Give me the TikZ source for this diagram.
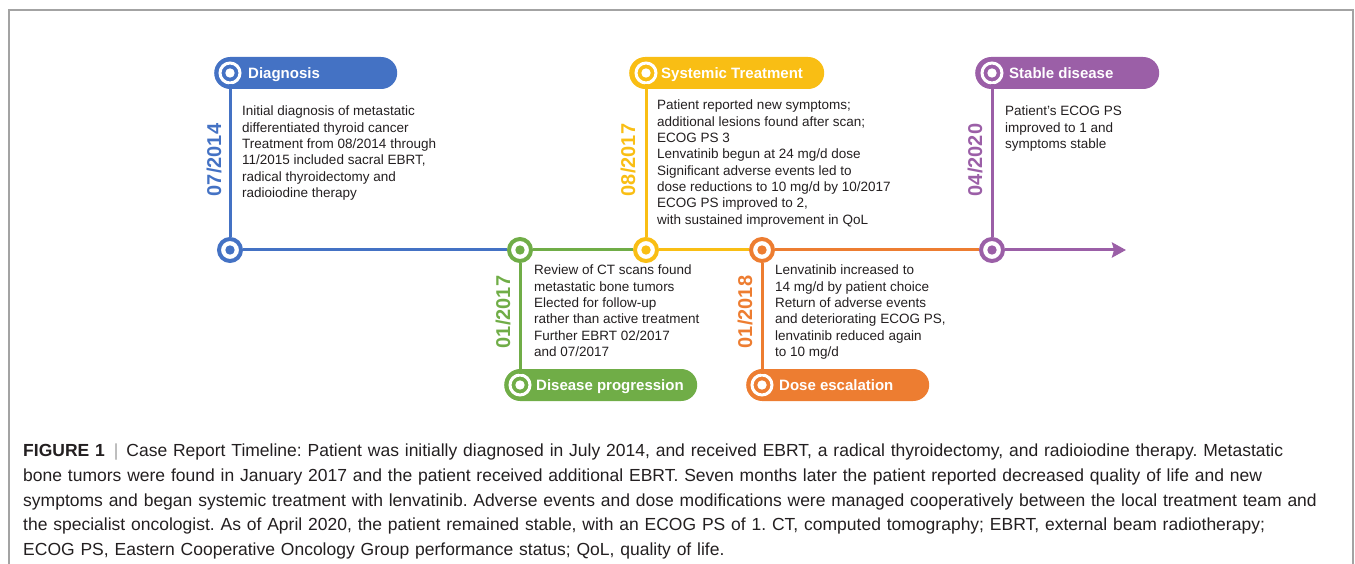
\documentclass[tikz,border=0pt]{standalone}
\usepackage{fontspec}
\setmainfont{Liberation Sans}
\usetikzlibrary{calc, arrows.meta, positioning}

\definecolor{tlblue}{HTML}{4472C4}
\definecolor{tlgreen}{HTML}{70AD47}
\definecolor{tlyellow}{HTML}{F9BE14}
\definecolor{tlorange}{HTML}{ED7D31}
\definecolor{tlpurple}{HTML}{9B5FA7}
\definecolor{txt}{HTML}{231F20}
\definecolor{framegray}{HTML}{A3A3A3}

\tikzset{
	ring/.style 2 args={circle, draw=#1, fill=#2, line width=4pt, minimum size=22pt, inner sep=0pt,
		path picture={\fill[#1] (path picture bounding box.center) circle (4.7pt);}},
	topring/.style={ring={white}{#1}, line width=3pt, minimum size=20pt},
	pill/.style={fill=#1, rounded corners=16pt, minimum height=32pt, inner sep=0pt, anchor=west},
	title/.style={text=white, font=\bfseries\fontsize{15}{18}\selectfont, anchor=base west, inner sep=0pt},
	date/.style={text=#1, font=\bfseries\fontsize{20}{24}\selectfont, rotate=90, inner sep=0pt},
	desc/.style={text=txt, font=\fontsize{13.5}{16.3}\selectfont, align=left, anchor=north west, inner sep=0pt},
	tl/.style={draw=#1, line width=3pt}
}

\begin{document}
\frenchspacing
\begin{tikzpicture}[x=1pt, y=-1pt]
	\useasboundingbox (0,0) rectangle (1355,564);
	\def\ytop{73}
	\def\ymid{250}
	\def\ybot{385}

	% --- frame ---
	\draw[framegray, line width=1.5pt] (9,564) -- (9,10) -- (1353,10) -- (1353,564);

	% --- labels ---
	\node[pill=tlblue, minimum width=183pt] (diagpill) at (214,\ytop) {};
	\node[pill=tlgreen, minimum width=193pt] (progpill) at (504,\ybot) {};
	\node[pill=tlyellow, minimum width=195pt] (systpill) at (629,\ytop) {};
	\node[pill=tlorange, minimum width=183pt] (escpill) at (746,\ybot) {};
	\node[pill=tlpurple, minimum width=184pt] (stabpill) at (975,\ytop) {};

	\node[title] (diagtitle) at (248,78.5) {Diagnosis};
	\node[title] (progtitle) at (536,390.5) {Disease progression};
	\node[title] (systtitle) at (661,78.5) {Systemic Treatment};
	\node[title] (esctitle) at (779,390.5) {Dose escalation};
	\node[title] (stabtitle) at (1009,78.5) {Stable disease};

	% --- markers ---
	\node[topring=tlblue] (diagtop) at (230,\ytop) {};
	\node[topring=tlgreen] (progbot) at (520,\ybot) {};
	\node[topring=tlyellow] (systtop) at (646,\ytop) {};
	\node[topring=tlorange] (escbot) at (762,\ybot) {};
	\node[topring=tlpurple] (stabtop) at (992,\ytop) {};

	\node[ring={tlblue}{white}] (diag) at (230,\ymid) {};
	\node[ring={tlgreen}{white}] (prog) at (520,\ymid) {};
	\node[ring={tlyellow}{white}] (syst) at (646,\ymid) {};
	\node[ring={tlorange}{white}] (esc) at (762,\ymid) {};
	\node[ring={tlpurple}{white}] (stab) at (992,\ymid) {};
	\coordinate (tlend) at (1126,\ymid);

	% --- timeline ---
	\draw[tl=tlblue] (diag) -- (prog);
	\draw[tl=tlgreen] (prog) -- (syst);
	\draw[tl=tlyellow] (syst) -- (esc);
	\draw[tl=tlorange] (esc) -- (stab);
	\draw[tl=tlpurple, -{Stealth[length=14pt, width=15pt, inset=2pt]}] (stab) -- (tlend);

	\draw[tl=tlblue] (diag) -- (diagtop);
	\draw[tl=tlgreen] (prog) -- (progbot);
	\draw[tl=tlyellow] (syst) -- (systtop);
	\draw[tl=tlorange] (esc) -- (escbot);
	\draw[tl=tlpurple] (stab) -- (stabtop);

	% --- dates ---
	\node[date=tlblue] (diagdate) at (214,160) {07/2014};
	\node[date=tlgreen] (progdate) at (503,312) {01/2017};
	\node[date=tlyellow] (systdate) at (628,160) {08/2017};
	\node[date=tlorange] (escdate) at (745,312) {01/2018};
	\node[date=tlpurple] (stabdate) at (975,160) {04/2020};

	% --- descriptions ---
	\node[desc] (diagtxt) at (242,106) {Initial diagnosis of metastatic\\differentiated thyroid cancer\\Treatment from 08/2014 through\\11/2015 included sacral EBRT,\\radical thyroidectomy and\\radioiodine therapy};
	\node[desc] (progtxt) at (534,265) {Review of CT scans found\\metastatic bone tumors\\Elected for follow-up\\rather than active treatment\\Further EBRT 02/2017\\and 07/2017};
	\node[desc] (systtxt) at (657,100) {Patient reported new symptoms;\\additional lesions found after scan;\\ECOG PS 3\\Lenvatinib begun at 24 mg/d dose\\Significant adverse events led to\\dose reductions to 10 mg/d by 10/2017\\ECOG PS improved to 2,\\with sustained improvement in QoL};
	\node[desc] (esctxt) at (775,265) {Lenvatinib increased to\\14 mg/d by patient choice\\Return of adverse events\\and deteriorating ECOG PS,\\lenvatinib reduced again\\to 10 mg/d};
	\node[desc] (stabtxt) at (1005,106) {Patient's ECOG PS\\improved to 1 and\\symptoms stable};

	% --- caption ---
	\node[text=txt, font=\fontsize{17.5}{24.6}\selectfont, align=left, text width=1320pt, anchor=north west, inner sep=0pt] (caption) at (23,444) {\textbf{FIGURE 1}\hspace{9pt}{\color{framegray}|}\hspace{8pt}Case Report Timeline: Patient was initially diagnosed in July 2014, and received EBRT, a radical thyroidectomy, and radioiodine therapy. Metastatic\\bone tumors were found in January 2017 and the patient received additional EBRT. Seven months later the patient reported decreased quality of life and new\\symptoms and began systemic treatment with lenvatinib. Adverse events and dose modifications were managed cooperatively between the local treatment team and\\the specialist oncologist. As of April 2020, the patient remained stable, with an ECOG PS of 1. CT, computed tomography; EBRT, external beam radiotherapy;\\ECOG PS, Eastern Cooperative Oncology Group performance status; QoL, quality of life.};
\end{tikzpicture}
\end{document}
